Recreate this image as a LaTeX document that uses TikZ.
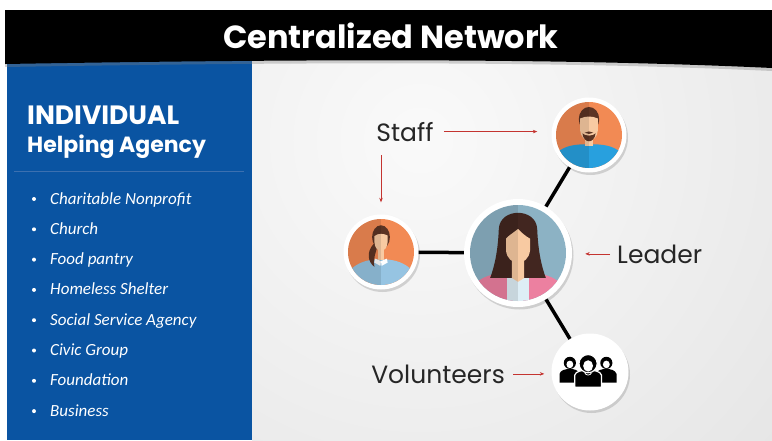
\documentclass[tikz,border=0pt]{standalone}
\usepackage{fontspec}
\setmainfont{Poppins}
\newfontfamily\listfont{Carlito}
\usetikzlibrary{positioning,arrows.meta,shadows}

\definecolor{panelblue}{RGB}{10,84,162}
\definecolor{ruleblue}{RGB}{60,112,176}
\definecolor{arrowred}{RGB}{196,52,48}
\definecolor{bgorange}{RGB}{242,138,84}
\definecolor{bgslate}{RGB}{140,178,196}
\definecolor{skin}{RGB}{248,202,162}
\definecolor{hairbrown}{RGB}{92,52,36}
\definecolor{hairdark}{RGB}{66,38,32}
\definecolor{shirtblue}{RGB}{40,160,222}
\definecolor{shirtpale}{RGB}{150,196,226}
\definecolor{jacketpink}{RGB}{236,128,160}
\definecolor{shirtwhite}{RGB}{222,238,246}

\begin{document}
\begin{tikzpicture}[x=1pt, y=-1pt, every node/.style={inner sep=0pt},
  ring/.style={circle, fill=white, minimum size=75pt, drop shadow={opacity=0.3, shadow xshift=1.5pt, shadow yshift=-2.5pt}},
  bigring/.style={ring, minimum size=108pt},
  link/.style={line width=3.5pt, black},
  pointer/.style={draw=arrowred, line width=0.6pt, -{Stealth[length=4.5pt, width=3.5pt]}},
  tag/.style={font=\fontsize{25}{28}\selectfont, text=black!85},
  item/.style={font=\listfont\itshape\fontsize{17}{20}\selectfont, text=white, anchor=base west},
  halfshade/.style={black, opacity=0.1},
  % man with beard
  man/.pic={
    \begin{scope}
      \clip (0,0) circle (1);
      \fill[bgorange] (-1,-1) rectangle (1,1);
      \fill[shirtblue] (-1,-1.2) -- (-1,-0.55) .. controls (-0.7,-0.3) and (-0.4,-0.28) .. (0,-0.28) .. controls (0.4,-0.28) and (0.7,-0.3) .. (1,-0.55) -- (1,-1.2) -- cycle;
      \fill[skin] (-0.13,-0.34) rectangle (0.13,0.1);
      \fill[hairbrown] (0,0.48) ellipse (0.31 and 0.37);
      \fill[skin] (-0.27,0.5) -- (-0.27,0.15) .. controls (-0.26,-0.05) and (-0.12,-0.18) .. (0,-0.18) .. controls (0.12,-0.18) and (0.26,-0.05) .. (0.27,0.15) -- (0.27,0.5) .. controls (0.1,0.58) and (-0.1,0.58) .. (-0.27,0.5) -- cycle;
      \fill[hairbrown] (-0.2,0.05) .. controls (-0.18,-0.12) and (-0.08,-0.19) .. (0,-0.19) .. controls (0.08,-0.19) and (0.18,-0.12) .. (0.2,0.05) .. controls (0.12,-0.04) and (-0.12,-0.04) .. (-0.2,0.05) -- cycle;
      \fill[hairbrown] (-0.13,0.07) .. controls (-0.05,0.12) and (0.05,0.12) .. (0.13,0.07) .. controls (0.05,0.02) and (-0.05,0.02) .. (-0.13,0.07) -- cycle;
      \fill[halfshade] (-1,-1.2) rectangle (0,1.2);
    \end{scope}
  },
  % woman with ponytail
  girl/.pic={
    \begin{scope}
      \clip (0,0) circle (1);
      \fill[bgorange] (-1,-1) rectangle (1,1);
      \fill[shirtpale] (-1,-1.2) -- (-1,-0.6) .. controls (-0.7,-0.3) and (-0.4,-0.22) .. (0,-0.22) .. controls (0.4,-0.22) and (0.7,-0.3) .. (1,-0.6) -- (1,-1.2) -- cycle;
      \fill[skin] (-0.1,-0.25) rectangle (0.1,0.2);
      \fill[white] (-0.18,-0.2) -- (0,-0.28) -- (-0.02,-0.42) -- (-0.2,-0.32) -- cycle;
      \fill[white] (0.18,-0.2) -- (0,-0.28) -- (0.02,-0.42) -- (0.2,-0.32) -- cycle;
      \fill[hairbrown] (0,0.45) ellipse (0.27 and 0.36);
      \fill[hairbrown] (-0.22,0.25) .. controls (-0.45,0.0) and (-0.4,-0.3) .. (-0.2,-0.45) .. controls (-0.25,-0.2) and (-0.15,0.0) .. (-0.1,0.2) -- cycle;
      \fill[skin] (-0.2,0.48) -- (-0.2,0.3) .. controls (-0.19,0.12) and (-0.1,0.04) .. (0,0.04) .. controls (0.1,0.04) and (0.19,0.12) .. (0.2,0.3) -- (0.2,0.5) .. controls (0.1,0.56) and (-0.1,0.58) .. (-0.2,0.48) -- cycle;
      \fill[halfshade] (-1,-1.2) rectangle (0,1.2);
    \end{scope}
  },
  % leader with long hair
  lead/.pic={
    \begin{scope}
      \clip (0,0) circle (1);
      \fill[bgslate] (-1,-1) rectangle (1,1);
      \fill[jacketpink] (-1,-1.2) -- (-1,-0.75) .. controls (-0.8,-0.48) and (-0.5,-0.4) .. (0,-0.4) .. controls (0.5,-0.4) and (0.8,-0.48) .. (1,-0.75) -- (1,-1.2) -- cycle;
      \fill[hairdark] (-0.4,0.5) .. controls (-0.38,0.95) and (0.38,0.95) .. (0.4,0.5) .. controls (0.42,0.0) and (0.5,-0.3) .. (0.58,-0.52) -- (-0.58,-0.52) .. controls (-0.5,-0.3) and (-0.42,0.0) .. (-0.4,0.5) -- cycle;
      \fill[shirtwhite] (-0.22,-1.2) -- (-0.22,-0.52) -- (0.22,-0.52) -- (0.22,-1.2) -- cycle;
      \fill[skin] (-0.13,-0.52) -- (-0.13,-0.05) -- (0.13,-0.05) -- (0.13,-0.52) -- (0,-0.6) -- cycle;
      \fill[skin] (-0.25,0.3) -- (-0.25,0.05) .. controls (-0.23,-0.12) and (-0.12,-0.2) .. (0,-0.2) .. controls (0.12,-0.2) and (0.23,-0.12) .. (0.25,0.05) -- (0.25,0.3) .. controls (0.15,0.35) and (0.05,0.45) .. (0,0.5) .. controls (-0.1,0.42) and (-0.2,0.36) .. (-0.25,0.3) -- cycle;
      \fill[halfshade] (-1,-1.2) rectangle (0,1.2);
    \end{scope}
  },
  % group of three
  crowd/.pic={
    \fill[black] (-0.8,-0.28) -- (-0.8,-0.05) .. controls (-0.78,0.05) and (-0.65,0.08) .. (-0.53,0.08) .. controls (-0.41,0.08) and (-0.3,0.05) .. (-0.28,-0.05) -- (-0.28,-0.28) -- cycle;
    \fill[black] (-0.53,0.24) circle (0.16);
    \fill[white] (-0.53,0.2) ellipse (0.09 and 0.1);
    \fill[black] (0.16,-0.28) -- (0.16,-0.05) .. controls (0.18,0.05) and (0.31,0.08) .. (0.43,0.08) .. controls (0.55,0.08) and (0.66,0.05) .. (0.7,-0.05) -- (0.7,-0.28) -- cycle;
    \fill[black] (0.43,0.24) circle (0.16);
    \fill[white] (0.43,0.2) ellipse (0.09 and 0.1);
    \filldraw[fill=black, draw=white, line width=1.2pt] (-0.4,-0.4) -- (-0.4,-0.08) .. controls (-0.38,0.02) and (-0.2,0.05) .. (-0.05,0.05) .. controls (0.1,0.05) and (0.28,0.02) .. (0.3,-0.08) -- (0.3,-0.4) -- cycle;
    \filldraw[fill=black, draw=white, line width=1.2pt] (-0.05,0.22) circle (0.24);
    \fill[white] (-0.05,0.16) ellipse (0.13 and 0.15);
    \draw[white, line width=0.8pt] (-0.14,-0.02) .. controls (-0.1,-0.1) and (0,-0.1) .. (0.04,-0.02);
  }]

\useasboundingbox (0,0) rectangle (772,440);
\fill[white] (0,0) rectangle (772,440);

% grey backdrop and blue side panel
\begin{scope}
  \clip (252,60) rectangle (772,440);
  \shade[inner color=black!2, outer color=black!17] (420,140) circle (900);
\end{scope}
\fill[panelblue] (7,60) rectangle (252,440);

% title bar
\fill[black, drop shadow={opacity=0.35, shadow xshift=0pt, shadow yshift=-3pt}] (5,10) -- (772,10) -- (772,68) .. controls (560,58) and (300,59) .. (5,64) -- cycle;
\node[font=\bfseries\fontsize{32}{36}\selectfont, text=white] (title) at (391,36) {Centralized Network};

% agency types
\node[anchor=base west, font=\bfseries\fontsize{26.5}{30}\selectfont, text=white] (kind) at (27,124) {INDIVIDUAL};
\node[anchor=base west, font=\bfseries\fontsize{22}{26}\selectfont, text=white] (agency) at (27,152) {Helping Agency};
\draw[ruleblue, line width=0.8pt] (14,171) -- (244,171);
\foreach \kind [count=\i from 0] in {Charitable Nonprofit, Church, Food pantry, Homeless Shelter, Social Service Agency, Civic Group, Foundation, Business}{
  \node[item] (item\i) at (50, 204+30.3*\i) {\kind};
  \fill[white] ([xshift=-16pt, yshift=5pt]item\i.base west) circle (2pt);
}

% network
\node[ring] (staffB) at (589,135) {};
\node[ring] (staffA) at (381,252) {};
\node[bigring] (leader) at (518,253) {};
\node[ring, minimum size=77pt] (vols) at (590,372) {};
\draw[link] (staffA) -- (leader);
\draw[link] (leader) -- (staffB);
\draw[link] (leader) -- (vols);
\pic[x=33pt, y=33pt] at (staffB) {man};
\pic[x=33pt, y=33pt] at (staffA) {girl};
\pic[x=48pt, y=48pt] at (leader) {lead};
\pic[x=38pt, y=38pt] at (vols) {crowd};

% labels
\node[tag, anchor=base] (stafftag) at (405,141) {Staff};
\node[tag, anchor=base west] (leadtag) at (617,263) {Leader};
\node[tag, anchor=base east] (voltag) at (505,383) {Volunteers};
\draw[pointer, shorten <=10pt, shorten >=14pt] (stafftag.east) -- (stafftag.east -| staffB.west);
\draw[pointer, shorten <=14pt, shorten >=12pt] (stafftag.south -| staffA) -- (staffA.north);
\draw[pointer, shorten <=7pt, shorten >=13pt] (leadtag.west) -- (leadtag.west -| leader.east);
\draw[pointer, shorten <=8pt, shorten >=7pt] (voltag.east) -- (voltag.east -| vols.west);
\end{tikzpicture}
\end{document}
